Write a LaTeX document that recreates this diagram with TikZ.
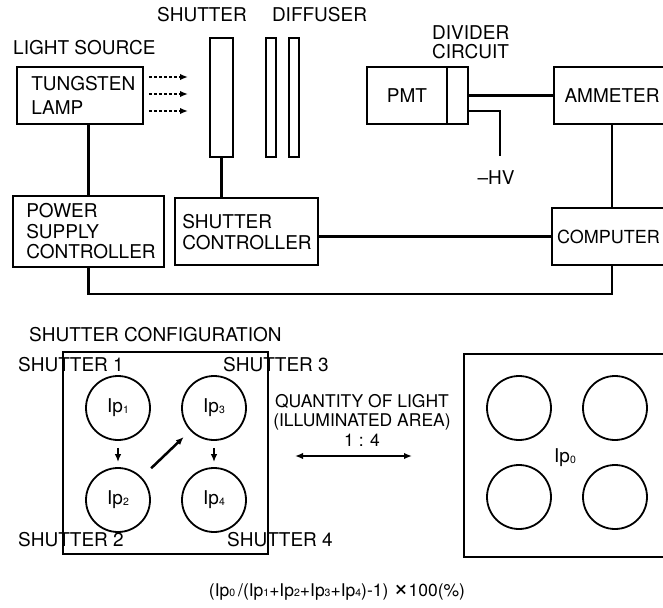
\documentclass[tikz,border=0pt]{standalone}
\usepackage{fontspec}
\setmainfont{TeX Gyre Heros}
\usetikzlibrary{arrows.meta,positioning,calc}
\tikzset{
  >={Latex[length=8pt,width=6.5pt]},
  box/.style={rectangle,draw,line width=1.8pt,inner sep=0pt},
  lbl/.style={inner sep=0pt,font=\fontsize{19}{21}\selectfont,align=left},
  ring/.style={circle,draw,line width=1.8pt,minimum size=64pt,inner sep=0pt,font=\fontsize{19}{21}\selectfont},
  link/.style={draw,line width=2.5pt},
  beam/.style={line width=2.4pt,dash pattern=on 3pt off 2pt,-{Latex[length=8pt,width=6.5pt]}}
}
\newcommand{\ipsub}[1]{Ip\raisebox{-0.5pt}{\fontsize{10.5}{10.5}\selectfont #1}}

\begin{document}
\begin{tikzpicture}[x=1pt,y=-1pt]
    \useasboundingbox (0,0) rectangle (663,607);

    % Light source and optics
    \node[lbl,anchor=west] (srclbl) at (13,48) {LIGHT SOURCE};
    \node[box,minimum width=126,minimum height=57] (lamp) at (80,95.5) {};
    \node[lbl,anchor=west,font=\fontsize{19}{24}\selectfont] (lamptxt) at ([xshift=15pt]lamp.west) {TUNGSTEN\\LAMP};
    \node[box,minimum width=23,minimum height=119] (shutter) at (221.5,97.5) {};
    \node[box,minimum width=10,minimum height=119] (diffA) at (271,97.5) {};
    \node[box,minimum width=10,minimum height=119] (diffB) at (294,97.5) {};
    \node[lbl] (shutlbl) at (202,15) {SHUTTER};
    \node[lbl] (difflbl) at (319.5,15) {DIFFUSER};
    \foreach \y [count=\i] in {77,94,111} {
        \coordinate (ray\i) at (188,\y);
        \draw[beam] ([xshift=5pt]lamp.east |- ray\i) -- (ray\i);
    }

    % Controllers
    \node[box,minimum width=151,minimum height=71] (psc) at (88.5,231.5) {};
    \node[lbl,anchor=west,font=\fontsize{19}{20.5}\selectfont] (psctxt) at ([xshift=14pt]psc.west) {POWER\\SUPPLY\\CONTROLLER};
    \node[box,minimum width=143,minimum height=67] (sc) at (246.5,231.5) {};
    \node[lbl,anchor=west] (sctxt) at ([xshift=8pt,yshift=-1pt]sc.west) {SHUTTER\\CONTROLLER};
    \node[box,minimum width=120,minimum height=57] (comp) at (612,236.5) {};
    \node[lbl,font=\fontsize{18}{20}\selectfont] (comptxt) at (608.5,237) {COMPUTER};

    % Detector
    \node[box,lbl,draw,line width=1.8pt,minimum width=80,minimum height=57] (pmt) at (407,95.5) {PMT};
    \node[box,minimum width=21,minimum height=57] (div) at (457.5,95.5) {};
    \node[lbl,anchor=west,font=\fontsize{19}{19}\selectfont] (divlbl) at (432,42.5) {DIVIDER\\CIRCUIT};
    \node[box,lbl,draw,line width=1.8pt,minimum width=116,minimum height=57] (amm) at (612,95.5) {AMMETER};
    \coordinate (hv) at (500,156);
    \node[lbl,below=14pt of hv,xshift=-4pt] (hvlbl) {–HV};

    % Wiring
    \path[link] (psc.north |- lamp.south) -- (psc.north);
    \path[link] (shutter.south) -- (shutter.south |- sc.north);
    \path[link] (sc.east |- comp.west) -- (comp.west);
    \path[link] (psc.south) -- ++(0,26) -| (comp.south);
    \path[link] (div.east) -- (amm.west);
    \path[link] ([yshift=14pt]div.south east) -| (hv);
    \path[link] (amm.south) -- (comp.north);

    % Shutter configuration
    \node[lbl,anchor=west] (cfglbl) at (29,335) {SHUTTER CONFIGURATION};
    \node[box,minimum width=205,minimum height=202] (frame) at (165.5,453) {};
    \node[lbl,anchor=west] (s1) at (18,365) {SHUTTER 1};
    \node[lbl,anchor=west] (s2) at (18,540) {SHUTTER 2};
    \node[lbl,anchor=west] (s3) at (223,365) {SHUTTER 3};
    \node[lbl,anchor=west] (s4) at (227,540) {SHUTTER 4};
    \node[ring] (ip1) at (118,408) {\ipsub{1}};
    \node[ring] (ip2) at (118,500) {\ipsub{2}};
    \node[ring] (ip3) at (214,408) {\ipsub{3}};
    \node[ring] (ip4) at (214,500) {\ipsub{4}};
    \path[link,->,shorten <=7pt,shorten >=5pt] (ip1) -- (ip2);
    \path[link,->,shorten <=7pt,shorten >=5pt] (ip3) -- (ip4);
    \path[link,->,shorten <=13pt,shorten >=9pt] (ip2) -- (ip3);

    % Ratio
    \node[lbl,align=center,font=\fontsize{17.5}{19.5}\selectfont] (qty) at (362,420) {QUANTITY OF LIGHT\\(ILLUMINATED AREA)\\1 : 4};
    \coordinate (qa) at (295,456);
    \coordinate (qb) at (412,456);
    \path[link,<->] (qa) -- (qb);

    % Full aperture
    \node[box,minimum width=206,minimum height=203] (full) at (567,455.5) {};
    \foreach \cx/\cy [count=\i] in {519/408,615/408,519/497,615/497}
        \node[ring] (hole\i) at (\cx,\cy) {};
    \node[lbl] (ip0) at (565,458) {\ipsub{0}};

    % Formula
    \node[lbl,font=\fontsize{17.5}{19.5}\selectfont] (formula) at (337,592) {(\ipsub{0}\,/(\ipsub{1}+\ipsub{2}+\ipsub{3}+\ipsub{4})-1) \scalebox{1.5}{×}100(\%)};

\end{tikzpicture}
\end{document}
